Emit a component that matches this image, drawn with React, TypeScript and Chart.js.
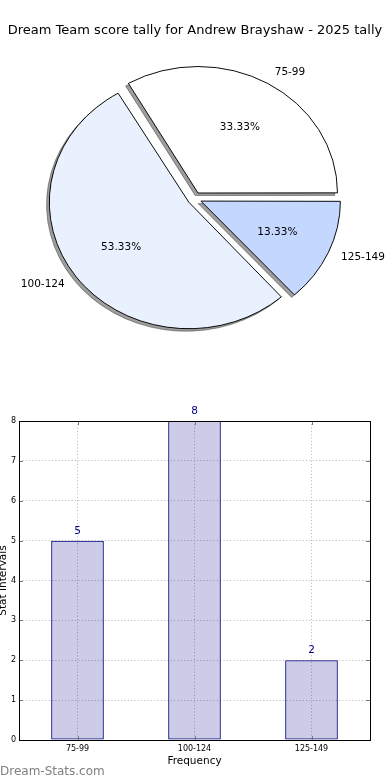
import React, { useEffect, useRef } from "react";
import { Chart, registerables } from "chart.js";

Chart.register(...registerables);

// ---- data ----
const TITLE = "Dream Team score tally for Andrew Brayshaw - 2025 tally";
const categories = ["75-99", "100-124", "125-149"];
const counts = [5, 8, 2];
const pieColors = ["#ffffff", "#eaf1fe", "#c4d7fe"];
const yTickMax = 8;
const yTickStep = 1;
const X_TITLE = "Frequency";
const Y_TITLE = "Stat Intervals";
const WATERMARK = "Dream-Stats.com";

// ---- style ----
const FONT = "'DejaVu Sans', 'Liberation Sans', sans-serif";
const R = 139.5; // horizontal radius
const SY = 126.5 / 139.5; // vertical squash (elliptical pie)
const OFFSET = 28; // chart.js translates arcs by offset/4
const SHADOW = "rgba(0,0,0,0.38)";
const GRID = "#b4b4b4";
const NAVY = "#000080";

// pie drawn counter-clockwise from east in the reference: reverse for chart.js (clockwise)
const pieLabels = [...categories].reverse();
const pieValues = [...counts].reverse();
const pieBg = [...pieColors].reverse();

const piePlugin = {
  id: "pieShape",
  afterDatasetsUpdate(chart: any) {
    const meta = chart.getDatasetMeta(0);
    meta.data.forEach((arc: any) => {
      const circ = arc.endAngle - arc.startAngle;
      const fix = 1 - Math.sin(Math.min(Math.PI, circ));
      arc.outerRadius = R - (OFFSET / 4) * fix;
    });
  },
  beforeDatasetsDraw(chart: any) {
    const ctx = chart.ctx;
    const meta = chart.getDatasetMeta(0);
    const a0 = meta.data[0];
    const cx = a0.x,
      cy = a0.y;
    ctx.save();
    ctx.translate(cx, cy);
    ctx.scale(1, SY);
    ctx.translate(-cx, -cy);
    meta.data.forEach((arc: any) => {
      const o = arc.options;
      arc.options = { ...o, backgroundColor: SHADOW, borderColor: SHADOW };
      ctx.save();
      ctx.translate(-0.02 * R, 0.02 * R);
      arc.draw(ctx);
      ctx.restore();
      arc.options = o;
    });
  },
  afterDatasetsDraw(chart: any) {
    const ctx = chart.ctx;
    ctx.restore();
    const meta = chart.getDatasetMeta(0);
    const total = pieValues.reduce((a, b) => a + b, 0);
    ctx.save();
    ctx.fillStyle = "#000";
    ctx.textBaseline = "middle";
    ctx.font = `10.5px ${FONT}`;
    meta.data.forEach((arc: any, i: number) => {
      const mid = (arc.startAngle + arc.endAngle) / 2;
      const tx = (Math.cos(mid) * OFFSET) / 4;
      const ty = (Math.sin(mid) * OFFSET) / 4;
      const px = (d: number) => arc.x + tx + d * R * Math.cos(mid);
      const py = (d: number) => arc.y + SY * (ty + d * R * Math.sin(mid));
      ctx.textAlign = "center";
      ctx.fillText(((pieValues[i] / total) * 100).toFixed(2) + "%", px(0.6), py(0.6));
      ctx.textAlign = Math.cos(mid) > 0 ? "left" : "right";
      ctx.fillText(pieLabels[i], px(1.1), py(1.1));
    });
    ctx.font = `13px ${FONT}`;
    ctx.textAlign = "center";
    ctx.fillText(TITLE, 195, 30.5);
    ctx.restore();
  },
};

const barPlugin = {
  id: "barDecor",
  afterDatasetsDraw(chart: any) {
    const ctx = chart.ctx;
    const meta = chart.getDatasetMeta(0);
    ctx.save();
    ctx.fillStyle = NAVY;
    ctx.font = `10.5px ${FONT}`;
    ctx.textAlign = "center";
    ctx.textBaseline = "middle";
    meta.data.forEach((bar: any, i: number) => {
      ctx.fillText(String(counts[i]), bar.x, bar.y - 9.5);
    });
    ctx.restore();
  },
  afterDraw(chart: any) {
    const ctx = chart.ctx;
    const { left, right, top, bottom } = chart.chartArea;
    ctx.save();
    // inward ticks
    ctx.strokeStyle = "#777";
    ctx.lineWidth = 1;
    const ys = chart.scales.y;
    const xs = chart.scales.x;
    ctx.beginPath();
    ys.ticks.forEach((t: any) => {
      const y = Math.round(ys.getPixelForValue(t.value)) + 0.5;
      ctx.moveTo(left, y);
      ctx.lineTo(left + 4, y);
      ctx.moveTo(right, y);
      ctx.lineTo(right - 4, y);
    });
    xs.ticks.forEach((t: any, i: number) => {
      const x = Math.round(xs.getPixelForTick(i)) + 0.5;
      ctx.moveTo(x, bottom);
      ctx.lineTo(x, bottom - 4);
      ctx.moveTo(x, top);
      ctx.lineTo(x, top + 4);
    });
    ctx.stroke();
    ctx.strokeStyle = "#000";
    ctx.strokeRect(left + 0.5, top + 0.5, right - left, bottom - top);
    ctx.restore();
  },
};

export default function App() {
  const pieRef = useRef<HTMLCanvasElement>(null);
  const barRef = useRef<HTMLCanvasElement>(null);

  useEffect(() => {
    const pie = new Chart(pieRef.current as HTMLCanvasElement, {
      type: "pie",
      data: {
        labels: pieLabels,
        datasets: [
          {
            data: pieValues,
            backgroundColor: pieBg,
            borderColor: "#000",
            borderWidth: 1,
            offset: OFFSET,
            hoverOffset: 0,
            radius: R,
            clip: false,
          } as any,
        ],
      },
      options: {
        animation: false,
        responsive: false,
        events: [],
        rotation: 90,
        layout: { padding: { left: 0, right: 1, top: 17, bottom: 0 } },
        plugins: { legend: { display: false }, tooltip: { enabled: false } },
      } as any,
      plugins: [piePlugin],
    });

    const tickFont = { family: FONT, size: 8 };
    const titleFont = { family: FONT, size: 10.5 };
    const bar = new Chart(barRef.current as HTMLCanvasElement, {
      type: "bar",
      data: {
        labels: categories,
        datasets: [
          {
            data: counts,
            backgroundColor: "rgba(0,0,128,0.2)",
            borderColor: NAVY,
            borderWidth: 1,
            borderSkipped: false,
            categoryPercentage: 1,
            barPercentage: 0.45,
          } as any,
        ],
      },
      options: {
        animation: false,
        responsive: false,
        events: [],
        layout: { padding: { top: 31, right: 20, left: 0, bottom: 0 } },
        plugins: { legend: { display: false }, tooltip: { enabled: false } },
        scales: {
          x: {
            offset: true,
            grid: { offset: false, color: GRID, lineWidth: 1, drawTicks: false },
            border: { display: false, dash: [1, 2.3] },
            ticks: { color: "#000", font: tickFont, padding: 4, maxRotation: 0 },
            title: {
              display: true,
              text: X_TITLE,
              color: "#000",
              font: titleFont,
              padding: { top: 0, bottom: 12 },
            },
            afterFit: (s: any) => {
              s.height = 40;
            },
          },
          y: {
            min: 0,
            max: yTickMax,
            grid: { color: GRID, lineWidth: 1, drawTicks: false },
            border: { display: false, dash: [1, 2.3] },
            ticks: { stepSize: yTickStep, color: "#000", font: tickFont, padding: 3 },
            title: {
              display: true,
              text: Y_TITLE,
              color: "#000",
              font: titleFont,
              padding: { top: 0, bottom: 0 },
            },
            afterFit: (s: any) => {
              s.width = 22;
            },
          },
        },
      } as any,
      plugins: [barPlugin],
    });

    return () => {
      pie.destroy();
      bar.destroy();
    };
  }, []);

  return (
    <div style={{ position: "absolute", left: 0, top: 0, width: 390, height: 780, background: "#fff", overflow: "hidden" }}>
      <canvas
        ref={pieRef}
        width={390}
        height={380}
        style={{ position: "absolute", left: 0, top: 0, width: 390, height: 380 }}
      />
      <canvas
        ref={barRef}
        width={393}
        height={390}
        style={{ position: "absolute", left: -3, top: 390, width: 393, height: 390 }}
      />
      <div
        style={{
          position: "absolute",
          left: 0,
          top: 764,
          font: `12px ${FONT}`,
          lineHeight: "14px",
          color: "#808080",
          whiteSpace: "nowrap",
        }}
      >
        {WATERMARK}
      </div>
    </div>
  );
}
